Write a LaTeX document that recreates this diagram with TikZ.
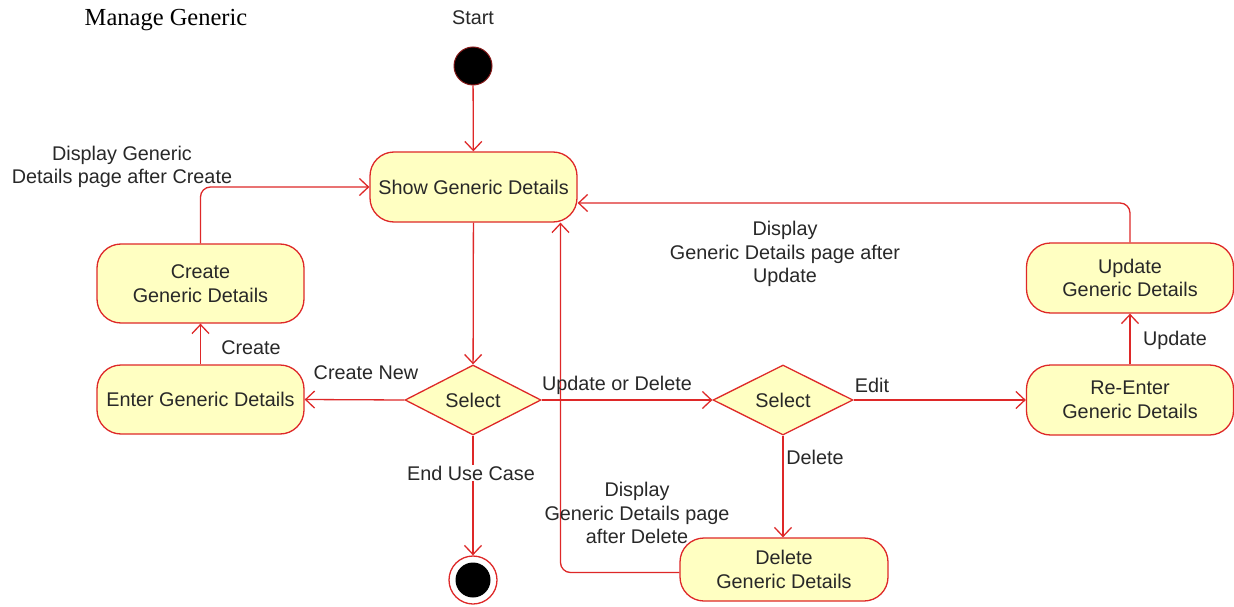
\documentclass[tikz,border=0pt]{standalone}
\usepackage{fontspec}
\setmainfont{Liberation Sans}
\newfontfamily\ttlfont{Liberation Serif}
\usetikzlibrary{shapes.geometric,arrows.meta,calc}
\definecolor{umlred}{RGB}{222,40,40}
\definecolor{umlfill}{RGB}{255,255,194}
\definecolor{txt}{RGB}{40,40,40}
\begin{document}
\begin{tikzpicture}[x=1pt,y=-1pt,
  every node/.style={font=\fontsize{19.8}{23.5}\selectfont, text=txt},
  act/.style={draw=umlred, fill=umlfill, line width=1.3pt, rounded corners=24pt, align=center, inner sep=0pt},
  dec/.style={draw=umlred, fill=umlfill, line width=1.3pt, diamond, inner sep=0pt},
  arr/.style={draw=umlred, line width=1.3pt, -{Straight Barb[length=9pt,width=17pt,line width=1.3pt]}},
  lbl/.style={align=center, inner sep=1pt}]
\useasboundingbox[fill=white] (0,0) rectangle (1234,607);

\node[font=\ttlfont\fontsize{24.5}{28}\selectfont, text=black] (title) at (166,20) {Manage Generic};
\node (startlbl) at (473,18) {Start};
\node[circle, fill=black, draw=umlred!60!black, line width=1pt, minimum size=38pt, inner sep=0pt] (start) at (473,66) {};

\node[act, minimum width=207pt, minimum height=70pt] (show) at (473.5,187) {Show Generic Details};
\node[act, minimum width=207pt, minimum height=79pt] (create) at (200.5,283.5) {Create\\Generic Details};
\node[act, minimum width=207pt, minimum height=69pt] (enter) at (200.5,399.5) {Enter Generic Details};
\node[dec, minimum width=136pt, minimum height=70pt] (sel1) at (473,400) {Select};
\node[dec, minimum width=140pt, minimum height=70pt] (sel2) at (783,400) {Select};
\node[act, minimum width=207pt, minimum height=70pt] (reenter) at (1130,400) {Re-Enter\\Generic Details};
\node[act, minimum width=207pt, minimum height=70pt] (update) at (1130,278) {Update\\Generic Details};
\node[act, minimum width=208pt, minimum height=63pt] (delete) at (784,569.5) {Delete\\Generic Details};

\node[circle, draw=umlred, fill=white, line width=1.3pt, minimum size=48pt, inner sep=0pt] (final) at (473,580) {};
\node[circle, fill=black, minimum size=35pt, inner sep=0pt] (finalin) at (final.center) {};

\coordinate (showR) at ([yshift=-16pt]show.east);
\coordinate (showB) at ([xshift=87pt]show.south);

\draw[arr] (start) -- (show);
\draw[arr] (show) -- (sel1);
\draw[arr] (sel1.west) -- (enter.east);
\draw[arr] (enter) -- (create);
\draw[arr, rounded corners=10pt] (create.north) |- (show.west);
\draw[arr] (sel1.east) -- (sel2.west);
\draw[arr] (sel2.east) -- (reenter.west);
\draw[arr] (reenter) -- (update);
\draw[arr, rounded corners=10pt] (update.north) |- (showR);
\draw[arr] (sel2.south) -- (sel2.south |- delete.north);
\draw[arr, rounded corners=10pt] ([yshift=-3pt]delete.west) -| (showB);
\draw[arr] (sel1.south) -- (final.north);

\node[lbl] (lcreatenew) at (366,373) {Create New};
\node[lbl] (lcreate) at (251,348) {Create};
\node[lbl] (lupdel) at (617,385) {Update or Delete};
\node[lbl] (ledit) at (872,385) {Edit};
\node[lbl] (lupdate) at (1175,340) {Update};
\node[lbl] (ldelete) at (815,457) {Delete};
\node[lbl, fill=white] (lend) at (471,473) {End Use Case};
\node[lbl] (ldcreate) at (122,167) {Display Generic\\Details page after Create};
\node[lbl] (ldupdate) at (785,254) {Display\\Generic Details page after\\Update};
\node[lbl] (lddelete) at (637,513) {Display\\Generic Details page\\after Delete};
\end{tikzpicture}
\end{document}
